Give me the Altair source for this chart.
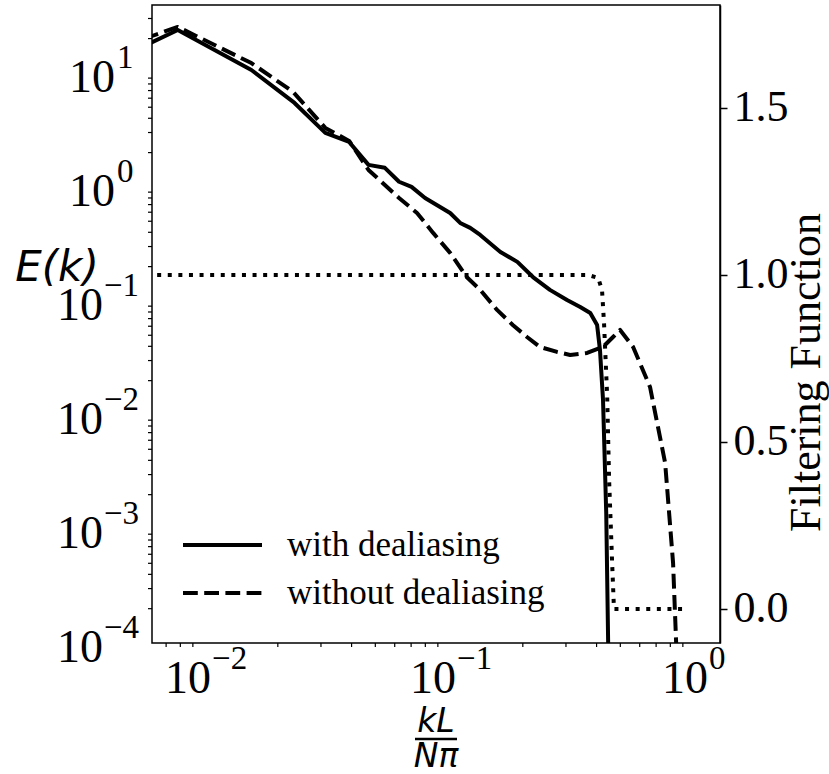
import altair as alt
import pandas as pd

# ---------------- data ----------------
k_with = [0.00391, 0.00781, 0.0156, 0.0234, 0.03125, 0.0391, 0.0469, 0.0547, 0.0625, 0.0703,
          0.0798, 0.101, 0.111, 0.122, 0.134, 0.162, 0.190, 0.220, 0.258, 0.303,
          0.343, 0.377, 0.402, 0.413, 0.425, 0.438, 0.446, 0.450]
E_with = [11.7, 23.8, 10.6, 5.45, 2.98, 2.48, 1.56, 1.47, 1.11, 1.0,
          0.80, 0.591, 0.483, 0.437, 0.379, 0.269, 0.220, 0.162, 0.125, 0.102,
          0.0886, 0.0785, 0.0616, 0.0372, 0.01354, 0.00138, 1.0e-4, 1.0e-5]

k_without = [0.00391, 0.00781, 0.0156, 0.0231, 0.03125, 0.0391, 0.0469, 0.0547, 0.0625, 0.0740,
             0.0861, 0.101, 0.118, 0.134, 0.157, 0.182, 0.208, 0.235, 0.276, 0.312,
             0.366, 0.425, 0.467, 0.499, 0.564, 0.661, 0.762, 0.821, 0.845, 0.861]
E_without = [15.0, 25.3, 12.2, 6.81, 3.29, 2.53, 1.41, 1.04, 0.80, 0.591,
             0.395, 0.264, 0.162, 0.125, 0.0834, 0.0616, 0.0483, 0.0395, 0.0357, 0.0336,
             0.0350, 0.0395, 0.0483, 0.0557, 0.0395, 0.0176, 0.00379, 0.000503, 1.0e-4, 2.1e-5]

k_filter = [0.00391, 0.369, 0.406, 0.421, 0.429, 0.442, 0.450, 0.463, 0.471, 0.935]
F_filter = [1.0, 1.0, 0.991, 0.955, 0.856, 0.635, 0.386, 0.138, 0.0, 0.0]

left_exps = [-4, -3, -2, -1, 0, 1]
bottom_exps = [-2, -1, 0]
filter_ticks = [0.0, 0.5, 1.0, 1.5]
legend_labels = ["with dealiasing", "without dealiasing"]

x_domain = [0.00613, 1.276]
y_domain = [1.0e-4, 39.4]
f_domain = [-0.102, 1.808]

# ---------------- layout / style ----------------
W, H = 568, 638
SERIF = "Liberation Serif"
SANS = "DejaVu Sans"
LW = 4


def log_ticks(lo, hi, minor):
    vals = []
    for n in range(-6, 3):
        for m in (range(2, 10) if minor else [1]):
            v = m * 10.0 ** n
            if lo * 0.9999 <= v <= hi * 1.0001:
                vals.append(v)
    return vals


xscale = alt.Scale(type="log", domain=x_domain, nice=False)
yscale = alt.Scale(type="log", domain=y_domain, nice=False)
fscale = alt.Scale(domain=f_domain, nice=False, zero=False)

df_with = pd.DataFrame({"k": k_with, "E": E_with})
df_without = pd.DataFrame({"k": k_without, "E": E_without})
df_filter = pd.DataFrame({"k": k_filter, "F": F_filter})


def sup(e):
    return ("\u2212" + str(-e)) if e < 0 else str(e)


df_left = pd.DataFrame({"v": [10.0 ** e for e in left_exps], "exp": [sup(e) for e in left_exps]})
df_bottom = pd.DataFrame({"v": [10.0 ** e for e in bottom_exps], "exp": [sup(e) for e in bottom_exps]})
df_xminor = pd.DataFrame({"v": log_ticks(*x_domain, minor=True)})
df_yminor = pd.DataFrame({"v": log_ticks(*y_domain, minor=True)})
one = pd.DataFrame({"a": [0]})

axis_common = dict(labels=False, title=None, tickSize=7, tickColor="black", tickWidth=1.5,
                   domainColor="black", domainWidth=1.5, grid=False)
x_axis = alt.Axis(values=log_ticks(*x_domain, minor=False), orient="bottom", **axis_common)
y_axis = alt.Axis(values=log_ticks(*y_domain, minor=False), orient="left", **axis_common)

solid = alt.Chart(df_with).mark_line(color="black", strokeWidth=LW, clip=True, strokeJoin="round").encode(
    x=alt.X("k:Q", scale=xscale, axis=x_axis),
    y=alt.Y("E:Q", scale=yscale, axis=y_axis),
)
dashed = alt.Chart(df_without).mark_line(color="black", strokeWidth=LW, clip=True, strokeDash=[14.8, 6.4],
                                         strokeCap="butt", strokeJoin="round").encode(
    x=alt.X("k:Q", scale=xscale, axis=None),
    y=alt.Y("E:Q", scale=yscale, axis=None),
)

# minor ticks (outward, like matplotlib)
xminor = alt.Chart(df_xminor).mark_rule(color="black", strokeWidth=1.2).encode(
    x=alt.X("v:Q", scale=xscale, axis=None), y=alt.value(H), y2=alt.value(H + 4))
yminor = alt.Chart(df_yminor).mark_rule(color="black", strokeWidth=1.2).encode(
    y=alt.Y("v:Q", scale=yscale, axis=None), x=alt.value(0), x2=alt.value(-4))

# left tick labels  10^n
lab_font = dict(font=SERIF, color="black")
left_neg = alt.Chart(df_left).transform_filter("datum.v < 1")
left_pos = alt.Chart(df_left).transform_filter("datum.v >= 1")
l1 = left_neg.mark_text(align="right", baseline="alphabetic", fontSize=46, dy=19, **lab_font).encode(
    x=alt.value(-49), y=alt.Y("v:Q", scale=yscale, axis=None), text=alt.value("10"))
l2 = left_neg.mark_text(align="left", baseline="alphabetic", fontSize=33, dy=-5, **lab_font).encode(
    x=alt.value(-48), y=alt.Y("v:Q", scale=yscale, axis=None), text="exp:N")
l3 = left_pos.mark_text(align="right", baseline="alphabetic", fontSize=46, dy=19, **lab_font).encode(
    x=alt.value(-37), y=alt.Y("v:Q", scale=yscale, axis=None), text=alt.value("10"))
l4 = left_pos.mark_text(align="left", baseline="alphabetic", fontSize=33, dy=-5, **lab_font).encode(
    x=alt.value(-35), y=alt.Y("v:Q", scale=yscale, axis=None), text="exp:N")

# bottom tick labels
bot_neg = alt.Chart(df_bottom).transform_filter("datum.v < 1")
bot_pos = alt.Chart(df_bottom).transform_filter("datum.v >= 1")
Y10, YEXP = H + 50, H + 26
b1 = bot_neg.mark_text(align="right", baseline="alphabetic", fontSize=46, dx=7, **lab_font).encode(
    x=alt.X("v:Q", scale=xscale, axis=None), y=alt.value(Y10), text=alt.value("10"))
b2 = bot_neg.mark_text(align="left", baseline="alphabetic", fontSize=33, dx=8, **lab_font).encode(
    x=alt.X("v:Q", scale=xscale, axis=None), y=alt.value(YEXP), text="exp:N")
b3 = bot_pos.mark_text(align="right", baseline="alphabetic", fontSize=46, dx=14, **lab_font).encode(
    x=alt.X("v:Q", scale=xscale, axis=None), y=alt.value(Y10), text=alt.value("10"))
b4 = bot_pos.mark_text(align="left", baseline="alphabetic", fontSize=33, dx=15, **lab_font).encode(
    x=alt.X("v:Q", scale=xscale, axis=None), y=alt.value(YEXP), text="exp:N")

# axis titles
base1 = alt.Chart(one)
ylab = base1.mark_text(font=SANS, fontStyle="italic", fontSize=42, align="center", baseline="middle",
                       color="black").encode(x=alt.value(-95), y=alt.value(263), text=alt.value("E(k)"))
xnum = base1.mark_text(font=SANS, fontStyle="italic", fontSize=33, align="center", baseline="alphabetic",
                       color="black").encode(x=alt.value(284), y=alt.value(H + 89), text=alt.value("kL"))
xden = base1.mark_text(font=SANS, fontStyle="italic", fontSize=33, align="center", baseline="alphabetic",
                       color="black").encode(x=alt.value(284), y=alt.value(H + 124), text=alt.value("N\u03c0"))
xbar = base1.mark_rule(color="black", strokeWidth=2.5).encode(
    x=alt.value(263), x2=alt.value(305), y=alt.value(H + 96))

# legend
leg1 = base1.mark_rule(color="black", strokeWidth=LW).encode(x=alt.value(31), x2=alt.value(110), y=alt.value(540))
leg2 = base1.mark_rule(color="black", strokeWidth=LW, strokeDash=[14.8, 6.4]).encode(
    x=alt.value(31), x2=alt.value(110), y=alt.value(588))
legt1 = base1.mark_text(font=SERIF, fontSize=35, align="left", baseline="middle", color="black").encode(
    x=alt.value(135), y=alt.value(540), text=alt.value(legend_labels[0]))
legt2 = base1.mark_text(font=SERIF, fontSize=35, align="left", baseline="middle", color="black").encode(
    x=alt.value(135), y=alt.value(588), text=alt.value(legend_labels[1]))

left_layer = alt.layer(solid, dashed, xminor, yminor, l1, l2, l3, l4, b1, b2, b3, b4,
                       ylab, xnum, xden, xbar, leg1, leg2, legt1, legt2)

f_axis = alt.Axis(orient="right", values=filter_ticks, format=".1f", title="Filtering Function",
                  labelFont=SERIF, labelFontSize=44, labelColor="black", labelPadding=6,
                  tickSize=7, tickColor="black", tickWidth=1.5, domainColor="black", domainWidth=1.5,
                  grid=False, titleFont=SERIF, titleFontSize=44, titleFontWeight="normal",
                  titleColor="black", titleAngle=270, titleX=86, titleY=367, titleAlign="center",
                  titleBaseline="middle", labelOverlap=False)

dotted = alt.Chart(df_filter).mark_line(color="black", strokeWidth=LW, clip=True, strokeDash=[4, 6.6],
                                        strokeCap="butt").encode(
    x=alt.X("k:Q", scale=xscale, axis=None),
    y=alt.Y("F:Q", scale=fscale, axis=f_axis),
)

chart = alt.layer(left_layer, dotted).resolve_scale(y="independent").properties(
    width=W, height=H,
    autosize=alt.AutoSizeParams(type="none"),
    padding={"left": 152, "top": 5, "right": 109, "bottom": 131},
    background="white",
).configure_view(stroke="black", strokeWidth=1.5)

chart.save("out.html", embed_options={"renderer": "svg", "actions": False})
